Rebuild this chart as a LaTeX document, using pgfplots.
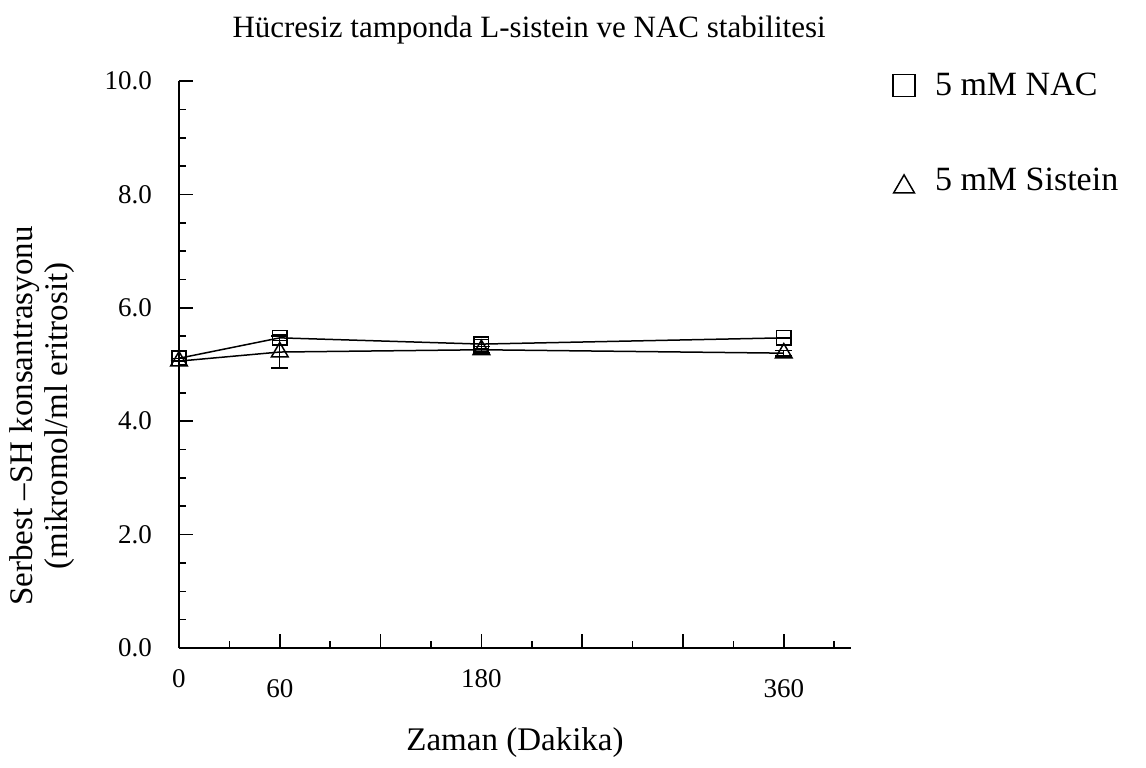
\documentclass[border=0pt]{standalone}
\usepackage{fontspec}
\setmainfont{Liberation Serif}
\usepackage{pgfplots}
\pgfplotsset{compat=1.18}
\begin{document}
\begin{tikzpicture}
\useasboundingbox (-89.5pt,-59.5pt) rectangle (483.5pt,324pt);
\begin{axis}[
  at={(0,0)}, anchor=south west,
  scale only axis, width=336pt, height=283.5pt,
  xmin=0, xmax=400, ymin=0, ymax=10,
  axis x line*=bottom, axis y line*=left,
  axis line style={-, line width=0.8pt},
  clip=false,
  xtick={0,60,120,180,240,300,360},
  xticklabels={0,{\rule{0pt}{14pt}60},{},180,{},{},{\rule{0pt}{14pt}360}},
  minor xtick={30,90,150,210,270,330,390},
  ytick={0,2,4,6,8,10},
  minor y tick num=3,
  major tick length=7pt, minor tick length=3.5pt,
  tick style={line width=0.8pt, black},
  /pgf/number format/assume math mode=true,
  yticklabel={\pgfmathprintnumber[fixed,fixed zerofill,precision=1]{\tick}},
  yticklabel style={font=\fontsize{13.5}{16}\selectfont, xshift=-10pt},
  xticklabel style={font=\fontsize{13.5}{16}\selectfont, yshift=-7pt, anchor=north},
  legend style={at={(1.062,1.022)}, anchor=north west, draw=none, fill=none,
    inner sep=0pt, row sep=31pt, font=\fontsize{17}{20}\selectfont,
    /tikz/every odd column/.append style={column sep=8pt}},
  legend cell align=left,
]
\addplot[black, line width=0.75pt, mark=square, mark size=3.6pt,
  mark options={solid, line width=0.75pt},
  error bars/.cd, y dir=both, y explicit,
  error mark options={rotate=90, line width=0.75pt, mark size=4pt},
  /pgfplots/legend image code/.code={\draw[mark size=5.5pt, line width=0.75pt] plot coordinates {(0.3cm,0cm)};}]
  coordinates {
  (0,5.11) +- (0,0.0)
  (60,5.47) +- (0,0.05)
  (180,5.36) +- (0,0.08)
  (360,5.47) +- (0,0.0)
};
\addlegendentry{5 mM NAC}
\addplot[black, line width=0.75pt, mark=triangle, mark size=4.8pt,
  mark options={solid, line width=0.75pt},
  error bars/.cd, y dir=both, y explicit,
  error mark options={rotate=90, line width=0.75pt, mark size=4.2pt},
  /pgfplots/legend image code/.code={\draw[mark size=6pt, line width=0.75pt] plot coordinates {(0.3cm,-0.1cm)};}]
  coordinates {
  (0,5.06) +- (0,0.0)
  (60,5.22) +- (0,0.28)
  (180,5.26) +- (0,0.06)
  (360,5.2) +- (0,0.05)
};
\addlegendentry{5 mM Sistein}
\node[font=\fontsize{15.5}{19}\selectfont] at ([yshift=25.5pt]rel axis cs:0.521,1) {Hücresiz tamponda L-sistein ve NAC stabilitesi};
\node[font=\fontsize{16.5}{19}\selectfont] at ([yshift=-47.5pt]rel axis cs:0.5,0) {Zaman (Dakika)};
\node[font=\fontsize{16.5}{17.5}\selectfont, rotate=90, align=center] at ([shift={(-68.5pt,116pt)}]rel axis cs:0,0) {Serbest –SH konsantrasyonu\\(mikromol/ml eritrosit)};
\end{axis}
\end{tikzpicture}
\end{document}
